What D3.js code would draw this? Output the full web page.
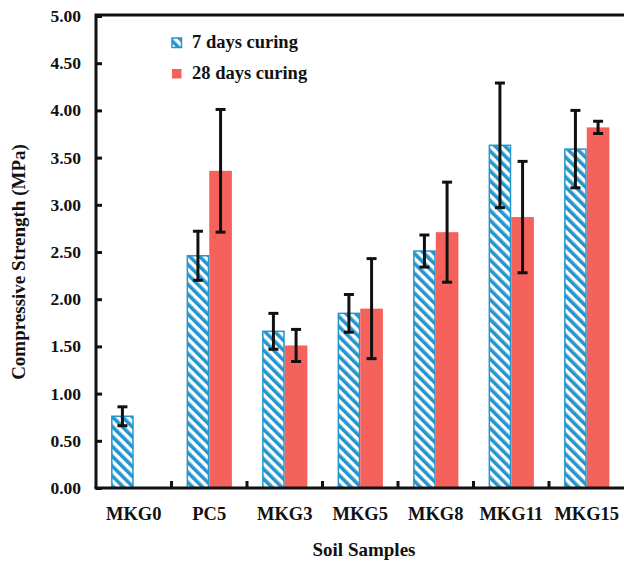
<!DOCTYPE html>
<html>
<head>
<meta charset="utf-8">
<script src="https://cdn.jsdelivr.net/npm/d3@7"></script>
<style>
  body { margin: 0; background: #fff; }
</style>
</head>
<body>
<svg id="chart" width="624" height="562"></svg>
<script>
const categories = ["MKG0", "PC5", "MKG3", "MKG5", "MKG8", "MKG11", "MKG15"];
const seriesNames = ["7 days curing", "28 days curing"];
const values7 = [0.76, 2.46, 1.66, 1.85, 2.51, 3.63, 3.59];
const errors7 = [0.10, 0.26, 0.19, 0.20, 0.17, 0.66, 0.41];
const values28 = [null, 3.36, 1.51, 1.90, 2.71, 2.87, 3.82];
const errors28 = [null, 0.65, 0.17, 0.53, 0.53, 0.59, 0.065];
const yTicks = [0, 0.5, 1, 1.5, 2, 2.5, 3, 3.5, 4, 4.5, 5];

const blue = "#2596cd", red = "#f4625b";
const FONT = "'Liberation Serif'";
const svg = d3.select("#chart");

const mLeft = 96, mRight = 624.5, mTop = 16, mBottom = 488;
const x = d3.scaleBand().domain(categories).range([mLeft, mRight]).paddingInner(0.4).paddingOuter(0.2);
const xs = d3.scaleBand().domain(seriesNames).range([0, x.bandwidth()]);
const y = d3.scaleLinear().domain([0, 5]).range([mBottom, mTop]);

// hatch pattern
const defs = svg.append("defs");
const pat = defs.append("pattern").attr("id", "hatch").attr("patternUnits", "userSpaceOnUse")
  .attr("width", 7).attr("height", 7).attr("patternTransform", "rotate(-45)");
pat.append("rect").attr("width", 7).attr("height", 7).attr("fill", "#fff");
pat.append("rect").attr("width", 3.6).attr("height", 7).attr("fill", blue);

const rows = categories.map((c, i) => ({c, v7: values7[i], e7: errors7[i], v28: values28[i], e28: errors28[i]}));

// bars 7 days
svg.append("g").selectAll("rect").data(rows).join("rect")
  .attr("x", d => x(d.c) + xs(seriesNames[0]) + 0.75)
  .attr("y", d => y(d.v7))
  .attr("width", xs.bandwidth() - 1.5)
  .attr("height", d => y(0) - y(d.v7))
  .attr("fill", "url(#hatch)")
  .attr("stroke", blue).attr("stroke-width", 1.5);

// bars 28 days
svg.append("g").selectAll("rect").data(rows.filter(d => d.v28 != null)).join("rect")
  .attr("x", d => x(d.c) + xs(seriesNames[1]))
  .attr("y", d => y(d.v28))
  .attr("width", xs.bandwidth())
  .attr("height", d => y(0) - y(d.v28))
  .attr("fill", red);

// error bars
function errBars(data, key, vk, ek) {
  const g = svg.append("g").attr("stroke", "#111").attr("stroke-width", 3);
  data.forEach(d => {
    if (d[vk] == null) return;
    const cx = x(d.c) + xs(key) + xs.bandwidth() / 2;
    const y1 = y(d[vk] + d[ek]), y2 = y(d[vk] - d[ek]);
    g.append("line").attr("x1", cx).attr("x2", cx).attr("y1", y1).attr("y2", y2);
    g.append("line").attr("x1", cx - 5).attr("x2", cx + 5).attr("y1", y1).attr("y2", y1);
    g.append("line").attr("x1", cx - 5).attr("x2", cx + 5).attr("y1", y2).attr("y2", y2);
  });
}
errBars(rows, seriesNames[0], "v7", "e7");
errBars(rows, seriesNames[1], "v28", "e28");

// y axis ticks (inside) and labels
const yAxis = d3.axisRight(y).tickValues(yTicks).tickSize(6).tickFormat("");
const ya = svg.append("g").attr("transform", `translate(${mLeft},0)`).call(yAxis);
ya.select(".domain").remove();
ya.selectAll("line").attr("stroke", "#111").attr("stroke-width", 3);
svg.append("g").selectAll("text").data(yTicks).join("text")
  .attr("x", 81).attr("y", d => y(d) + 6)
  .attr("text-anchor", "end").style("font-size", "17.5px")
  .text(d => d3.format(".2f")(d));

// x axis ticks between categories
const step = x.step();
const bounds = d3.range(1, categories.length).map(i => mLeft + step * i);
svg.append("g").selectAll("line").data(bounds).join("line")
  .attr("x1", d => d).attr("x2", d => d).attr("y1", mBottom).attr("y2", mBottom - 7)
  .attr("stroke", "#111").attr("stroke-width", 3);

// category labels
const xAxis = d3.axisBottom(x).tickSize(0).tickPadding(0);
const xa = svg.append("g").attr("transform", `translate(0,${mBottom})`).call(xAxis);
xa.select(".domain").remove();
xa.selectAll("text").attr("y", 32).attr("dy", 0).style("font-size", "18.5px");

// frame
svg.append("path").attr("d", `M${mLeft},${mBottom}V${mTop - 1}H630`).attr("fill", "none").attr("stroke", "#111").attr("stroke-width", 3);
svg.append("line").attr("x1", mLeft - 1.5).attr("x2", 630).attr("y1", mBottom).attr("y2", mBottom).attr("stroke", "#111").attr("stroke-width", 3);

// axis titles
svg.append("text").attr("x", 364).attr("y", 556).attr("text-anchor", "middle").style("font-size", "19px").text("Soil Samples");
svg.append("text").attr("transform", `translate(25,${262}) rotate(-90)`).attr("text-anchor", "middle").style("font-size", "19px").text("Compressive Strength (MPa)");

// legend
const legend = svg.append("g");
const lg = [{name: seriesNames[0], fill: "url(#hatch)", stroke: blue, y: 38}, {name: seriesNames[1], fill: red, stroke: "none", y: 69}];
lg.forEach(l => {
  legend.append("rect").attr("x", 172).attr("y", l.y).attr("width", 9.5).attr("height", 9.5)
    .attr("fill", l.fill).attr("stroke", l.stroke).attr("stroke-width", 1.5);
  legend.append("text").attr("x", 192).attr("y", l.y + 10).style("font-size", "18.5px").text(l.name);
});

svg.selectAll("text").style("font-family", FONT).style("font-weight", "bold").style("fill", "#111");
</script>
</body>
</html>
